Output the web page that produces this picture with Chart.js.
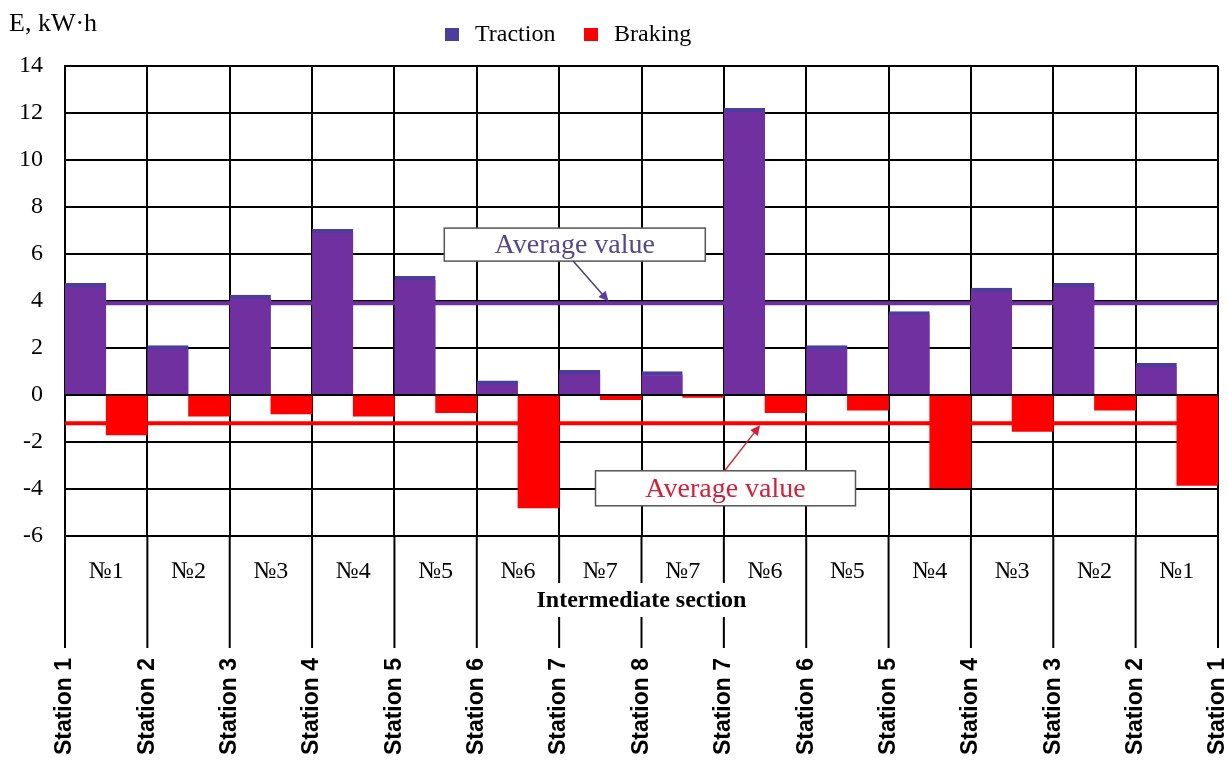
<!DOCTYPE html>
<html>
<head>
<meta charset="utf-8">
<script src="https://cdn.jsdelivr.net/npm/chart.js@4"></script>
<style>
  body { margin: 0; background: #fff; }
</style>
</head>
<body>
<canvas id="chart" width="1228" height="760"></canvas>
<script>
// Data
const sections = ['№1', '№2', '№3', '№4', '№5', '№6', '№7', '№7', '№6', '№5', '№4', '№3', '№2', '№1'];
const stations = ['Station 1', 'Station 2', 'Station 3', 'Station 4', 'Station 5', 'Station 6', 'Station 7', 'Station 8',
    'Station 7', 'Station 6', 'Station 5', 'Station 4', 'Station 3', 'Station 2', 'Station 1'];
const traction = [4.75, 2.1, 4.25, 7.05, 5.05, 0.6, 1.05, 1.0, 12.2, 2.1, 3.55, 4.55, 4.75, 1.35];
const braking = [-1.7, -0.9, -0.8, -0.9, -0.75, -4.8, -0.2, -0.1, -0.75, -0.65, -3.95, -1.55, -0.65, -3.85];
const avgTraction = 3.9;
const avgBraking = -1.2;
const yMin = -6;
const yMax = 14;
const yStep = 2;

const SERIF = '"Liberation Serif", "Times New Roman", serif';
const SANS = '"Liberation Sans", Arial, sans-serif';
const PURPLE = '#7030a0';
const PURPLE_TOP = '#4b3c9e';
const RED = '#ff0000';

// arrow with a filled head
const drawArrow = (ctx, x1, y1, x2, y2, lineColor, headColor) => {
    const ang = Math.atan2(y2 - y1, x2 - x1);
    const head = 11;
    ctx.strokeStyle = lineColor;
    ctx.lineWidth = 1.5;
    ctx.beginPath();
    ctx.moveTo(x1, y1);
    ctx.lineTo(x2 - Math.cos(ang) * head * 0.8, y2 - Math.sin(ang) * head * 0.8);
    ctx.stroke();
    ctx.fillStyle = headColor;
    ctx.beginPath();
    ctx.moveTo(x2, y2);
    ctx.lineTo(x2 - head * Math.cos(ang - 0.45), y2 - head * Math.sin(ang - 0.45));
    ctx.lineTo(x2 - head * Math.cos(ang + 0.45), y2 - head * Math.sin(ang + 0.45));
    ctx.closePath();
    ctx.fill();
};

// white box with the "Average value" note
const drawNote = (ctx, cx, cy, w, h, textColor) => {
    ctx.fillStyle = '#fff';
    ctx.fillRect(cx - w / 2, cy - h / 2, w, h);
    ctx.strokeStyle = '#555';
    ctx.lineWidth = 1.5;
    ctx.strokeRect(cx - w / 2, cy - h / 2, w, h);
    ctx.fillStyle = textColor;
    ctx.font = '28px ' + SERIF;
    ctx.textAlign = 'center';
    ctx.textBaseline = 'middle';
    ctx.fillText('Average value', cx, cy + 1);
};

const decor = {
    id: 'decor',
    beforeDatasetsDraw(chart) {
        const { ctx, chartArea, scales } = chart;
        ctx.save();
        ctx.lineWidth = 4;
        ctx.strokeStyle = PURPLE;
        let y = scales.y.getPixelForValue(avgTraction);
        ctx.beginPath(); ctx.moveTo(chartArea.left, y); ctx.lineTo(chartArea.right, y); ctx.stroke();
        ctx.strokeStyle = RED;
        y = scales.y.getPixelForValue(avgBraking);
        ctx.beginPath(); ctx.moveTo(chartArea.left, y); ctx.lineTo(chartArea.right, y); ctx.stroke();
        ctx.restore();
    },
    afterDraw(chart) {
        const { ctx, chartArea, scales } = chart;
        const x = scales.x, x2 = scales.x2, y = scales.y;
        ctx.save();

        // station dividers running down under the section labels
        const titleX = (chartArea.left + chartArea.right) / 2;
        const titleY = chartArea.bottom + 65;
        ctx.font = 'bold 24px ' + SERIF;
        const tw = ctx.measureText('Intermediate section').width;
        ctx.strokeStyle = '#000';
        ctx.lineWidth = 2;
        for (let i = 0; i < stations.length; i++) {
            const px = x2.getPixelForTick(i);
            const broken = px > titleX - tw / 2 - 6 && px < titleX + tw / 2 + 6;
            ctx.beginPath();
            ctx.moveTo(px, chartArea.bottom);
            if (broken) {
                ctx.lineTo(px, titleY - 18);
                ctx.moveTo(px, titleY + 16);
            }
            ctx.lineTo(px, x2.top + 28);
            ctx.stroke();
        }
        ctx.fillStyle = '#000';
        ctx.textAlign = 'center';
        ctx.textBaseline = 'middle';
        ctx.fillText('Intermediate section', titleX, titleY);

        // axis title
        ctx.font = '26px ' + SERIF;
        ctx.textAlign = 'left';
        ctx.textBaseline = 'alphabetic';
        ctx.fillText('E, kW\u00b7h', 9, 31);

        // legend
        ctx.font = '24px ' + SERIF;
        ctx.textBaseline = 'middle';
        ctx.fillStyle = PURPLE_TOP;
        ctx.fillRect(445, 28, 14, 13);
        ctx.fillStyle = RED;
        ctx.fillRect(584, 28, 14, 13);
        ctx.fillStyle = '#000';
        ctx.fillText('Traction', 475, 35);
        ctx.fillText('Braking', 614, 35);

        // "Average value" notes
        const pBoxY = y.getPixelForValue(6.4);
        drawNote(ctx, x.getPixelForValue(5.69), pBoxY, 261, 33, '#55488a');
        drawArrow(ctx, x.getPixelForValue(5.67), pBoxY + 16.5,
            x.getPixelForValue(6.1), y.getPixelForValue(avgTraction) - 2, '#4a4070', '#5a3ca8');
        const rBoxY = y.getPixelForValue(-3.97);
        drawNote(ctx, x.getPixelForValue(7.52), rBoxY, 260, 35, '#d3203a');
        drawArrow(ctx, x.getPixelForValue(7.51), rBoxY - 17.5,
            x.getPixelForValue(7.94), y.getPixelForValue(avgBraking) + 2, '#c83040', '#d3203a');

        ctx.restore();
    }
};

const ctx = document.getElementById('chart').getContext('2d');

const energyChart = new Chart(ctx, {
    type: 'bar',
    data: {
        labels: sections,
        datasets: [{
            label: 'Traction',
            data: traction,
            backgroundColor: PURPLE,
            borderColor: PURPLE_TOP,
            borderWidth: { top: 4, right: 0, bottom: 0, left: 0 },
            borderSkipped: 'start',
            categoryPercentage: 1,
            barPercentage: 1,
        }, {
            label: 'Braking',
            data: braking,
            backgroundColor: RED,
            borderWidth: 0,
            categoryPercentage: 1,
            barPercentage: 1,
        }]
    },
    options: {
        responsive: false,
        animation: false,
        devicePixelRatio: 1,
        layout: { padding: { top: 66, right: 10, left: 0, bottom: 0 } },
        plugins: {
            legend: { display: false },
            tooltip: { enabled: false }
        },
        scales: {
            x: {
                position: 'bottom',
                weight: 0,
                grid: { color: '#000', lineWidth: 2, drawTicks: false, offset: true },
                border: { color: '#000', width: 2 },
                ticks: { color: '#000', font: { family: SERIF, size: 24 }, padding: 21 },
                afterFit: (s) => { s.height = 84; s.paddingLeft = 0; s.paddingRight = 0; }
            },
            x2: {
                type: 'category',
                labels: stations,
                position: 'bottom',
                weight: 1,
                offset: false,
                grid: { display: false, drawTicks: false },
                border: { display: false },
                ticks: {
                    autoSkip: false, minRotation: 90, maxRotation: 90,
                    color: '#000', font: { family: SANS, size: 23, weight: 'bold' }, padding: 38
                },
                afterFit: (s) => { s.height = 140; s.paddingLeft = 0; s.paddingRight = 0; }
            },
            y: {
                min: yMin,
                max: yMax,
                ticks: { stepSize: yStep, color: '#000', font: { family: SERIF, size: 24 }, padding: 22 },
                grid: { color: '#000', lineWidth: 2, drawTicks: false },
                border: { color: '#000', width: 2 },
                afterFit: (s) => { s.width = 65; }
            }
        }
    },
    plugins: [decor]
});
</script>
</body>
</html>
